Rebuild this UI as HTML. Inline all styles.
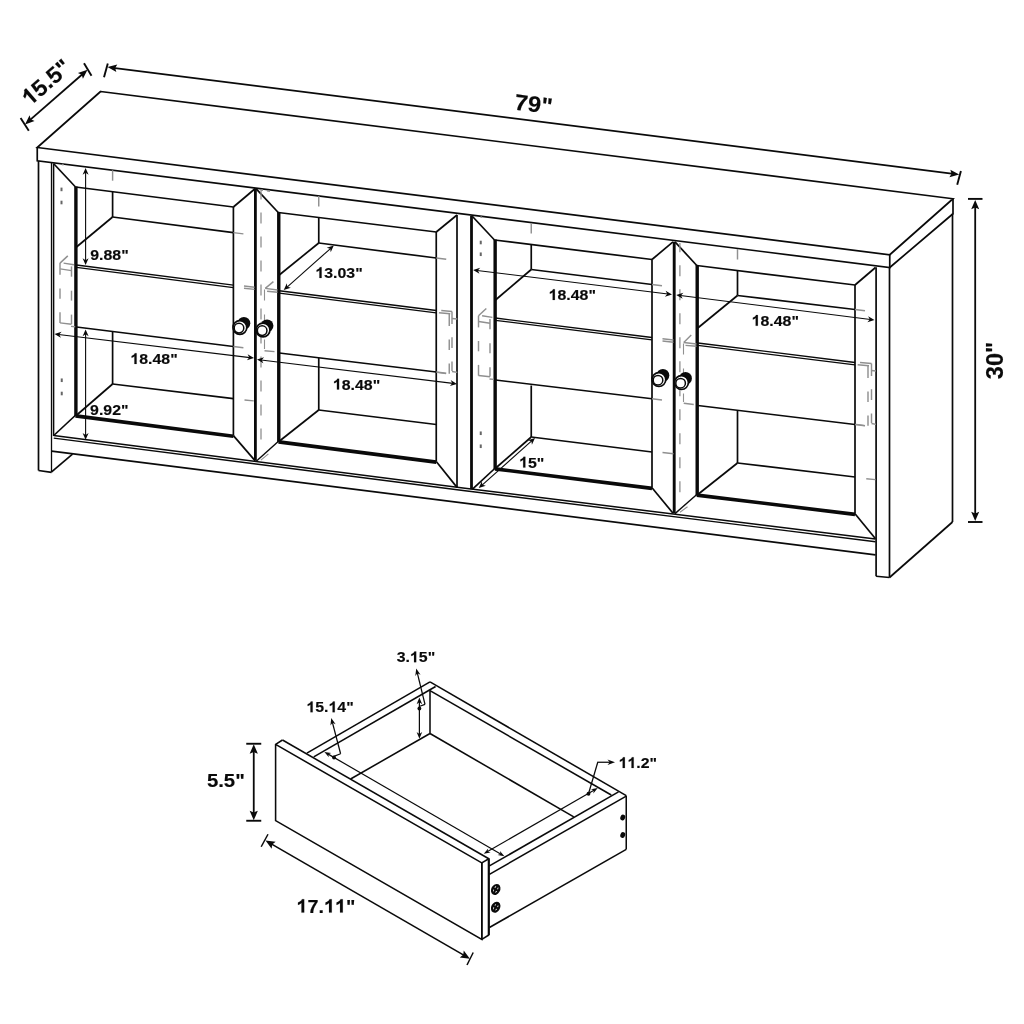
<!DOCTYPE html>
<html><head><meta charset="utf-8"><title>Cabinet dimensions</title>
<style>
html,body{margin:0;padding:0;background:#fff;overflow:hidden;}
svg{display:block;will-change:transform;}
text{font-family:"Liberation Sans",sans-serif;font-weight:bold;fill:#0a0a0a;stroke:#0a0a0a;stroke-width:0.15px;}
</style></head><body>
<svg width="1024" height="1024" viewBox="0 0 1024 1024">
<rect width="1024" height="1024" fill="#fff"/>
<polygon points="100.60,91.50 953.00,198.75 889.75,254.75 37.25,147.50" fill="none" stroke="#0a0a0a" stroke-width="1.7" stroke-linejoin="miter"/>
<polyline points="37.25,147.50 37.25,160.75 889.75,267.50 889.75,254.75" fill="none" stroke="#0a0a0a" stroke-width="1.7" stroke-linejoin="miter"/>
<polyline points="889.75,267.50 953.00,213.75 953.00,198.75" fill="none" stroke="#0a0a0a" stroke-width="1.7" stroke-linejoin="miter"/>
<line x1="38.50" y1="160.75" x2="38.50" y2="470.60" stroke="#0a0a0a" stroke-width="1.7" stroke-linecap="butt"/>
<line x1="38.50" y1="470.50" x2="51.60" y2="472.30" stroke="#0a0a0a" stroke-width="1.7" stroke-linecap="butt"/>
<line x1="51.50" y1="162.50" x2="51.50" y2="472.30" stroke="#0a0a0a" stroke-width="1.3" stroke-linecap="butt"/>
<line x1="53.60" y1="163.50" x2="53.60" y2="436.00" stroke="#0a0a0a" stroke-width="1.5" stroke-linecap="butt"/>
<line x1="51.60" y1="471.90" x2="72.50" y2="454.20" stroke="#0a0a0a" stroke-width="1.7" stroke-linecap="butt"/>
<polyline points="53.75,435.60 465.00,488.20 875.50,539.10" fill="none" stroke="#0a0a0a" stroke-width="1.5" stroke-linejoin="miter"/>
<polyline points="53.75,438.10 465.00,490.70 875.50,541.70" fill="none" stroke="#0a0a0a" stroke-width="1.4" stroke-linejoin="miter"/>
<line x1="51.60" y1="451.20" x2="875.50" y2="554.90" stroke="#0a0a0a" stroke-width="1.7" stroke-linecap="butt"/>
<line x1="876.10" y1="267.30" x2="876.10" y2="576.30" stroke="#0a0a0a" stroke-width="1.7" stroke-linecap="butt"/>
<line x1="889.50" y1="267.50" x2="889.50" y2="577.60" stroke="#0a0a0a" stroke-width="1.7" stroke-linecap="butt"/>
<line x1="876.10" y1="576.25" x2="889.50" y2="577.50" stroke="#0a0a0a" stroke-width="1.7" stroke-linecap="butt"/>
<line x1="889.50" y1="577.50" x2="952.50" y2="522.00" stroke="#0a0a0a" stroke-width="1.7" stroke-linecap="butt"/>
<line x1="952.50" y1="213.75" x2="952.50" y2="522.00" stroke="#0a0a0a" stroke-width="1.7" stroke-linecap="butt"/>
<line x1="53.75" y1="163.75" x2="75.50" y2="187.00" stroke="#0a0a0a" stroke-width="1.7" stroke-linecap="butt"/>
<line x1="255.00" y1="188.75" x2="233.40" y2="207.00" stroke="#0a0a0a" stroke-width="1.7" stroke-linecap="butt"/>
<line x1="255.00" y1="460.60" x2="233.40" y2="435.60" stroke="#0a0a0a" stroke-width="1.7" stroke-linecap="butt"/>
<line x1="53.75" y1="435.50" x2="75.50" y2="415.25" stroke="#0a0a0a" stroke-width="1.7" stroke-linecap="butt"/>
<line x1="75.50" y1="187.00" x2="233.40" y2="207.00" stroke="#0a0a0a" stroke-width="1.7" stroke-linecap="butt"/>
<line x1="233.40" y1="207.00" x2="233.40" y2="435.60" stroke="#0a0a0a" stroke-width="1.7" stroke-linecap="butt"/>
<line x1="75.90" y1="186.50" x2="75.90" y2="416.25" stroke="#0a0a0a" stroke-width="3.4" stroke-linecap="butt"/>
<line x1="75.50" y1="415.85" x2="233.40" y2="436.20" stroke="#0a0a0a" stroke-width="3.6" stroke-linecap="butt"/>
<line x1="112.60" y1="191.70" x2="112.60" y2="217.00" stroke="#0a0a0a" stroke-width="1.7" stroke-linecap="butt"/>
<line x1="112.60" y1="217.00" x2="233.40" y2="232.60" stroke="#0a0a0a" stroke-width="1.7" stroke-linecap="butt"/>
<line x1="233.40" y1="232.60" x2="243.40" y2="233.85" stroke="#909090" stroke-width="1.45" stroke-linecap="butt"/>
<line x1="112.60" y1="217.00" x2="76.50" y2="247.00" stroke="#0a0a0a" stroke-width="1.7" stroke-linecap="butt"/>
<line x1="76.50" y1="265.00" x2="233.40" y2="285.20" stroke="#0a0a0a" stroke-width="1.3" stroke-linecap="butt"/>
<line x1="76.50" y1="267.40" x2="233.40" y2="287.60" stroke="#0a0a0a" stroke-width="1.3" stroke-linecap="butt"/>
<line x1="76.50" y1="327.00" x2="233.40" y2="346.50" stroke="#0a0a0a" stroke-width="1.7" stroke-linecap="butt"/>
<line x1="233.40" y1="346.50" x2="243.40" y2="347.75" stroke="#909090" stroke-width="1.45" stroke-linecap="butt"/>
<line x1="112.60" y1="332.00" x2="112.60" y2="384.00" stroke="#0a0a0a" stroke-width="1.7" stroke-linecap="butt"/>
<line x1="112.60" y1="384.00" x2="233.40" y2="398.60" stroke="#0a0a0a" stroke-width="1.7" stroke-linecap="butt"/>
<line x1="112.60" y1="384.00" x2="76.50" y2="415.25" stroke="#0a0a0a" stroke-width="1.7" stroke-linecap="butt"/>
<line x1="112.60" y1="170.20" x2="112.60" y2="180.70" stroke="#909090" stroke-width="1.45" stroke-linecap="butt"/>
<line x1="256.25" y1="188.90" x2="278.25" y2="212.50" stroke="#0a0a0a" stroke-width="1.7" stroke-linecap="butt"/>
<line x1="457.00" y1="215.00" x2="436.25" y2="232.00" stroke="#0a0a0a" stroke-width="1.7" stroke-linecap="butt"/>
<line x1="457.00" y1="487.40" x2="436.25" y2="461.50" stroke="#0a0a0a" stroke-width="1.7" stroke-linecap="butt"/>
<line x1="256.25" y1="461.20" x2="278.50" y2="441.25" stroke="#0a0a0a" stroke-width="1.4" stroke-linecap="butt"/>
<line x1="278.25" y1="212.50" x2="436.25" y2="232.00" stroke="#0a0a0a" stroke-width="1.7" stroke-linecap="butt"/>
<line x1="436.25" y1="232.00" x2="436.25" y2="461.50" stroke="#0a0a0a" stroke-width="1.7" stroke-linecap="butt"/>
<line x1="278.77" y1="212.00" x2="278.77" y2="442.25" stroke="#0a0a0a" stroke-width="3.4" stroke-linecap="butt"/>
<line x1="278.50" y1="441.85" x2="436.25" y2="462.10" stroke="#0a0a0a" stroke-width="3.6" stroke-linecap="butt"/>
<line x1="318.75" y1="217.50" x2="318.75" y2="243.00" stroke="#0a0a0a" stroke-width="1.7" stroke-linecap="butt"/>
<line x1="318.75" y1="243.00" x2="436.25" y2="258.00" stroke="#0a0a0a" stroke-width="1.7" stroke-linecap="butt"/>
<line x1="436.25" y1="258.00" x2="446.25" y2="259.25" stroke="#909090" stroke-width="1.45" stroke-linecap="butt"/>
<line x1="318.75" y1="243.00" x2="279.25" y2="275.00" stroke="#0a0a0a" stroke-width="1.7" stroke-linecap="butt"/>
<line x1="279.25" y1="290.75" x2="436.25" y2="310.50" stroke="#0a0a0a" stroke-width="1.3" stroke-linecap="butt"/>
<line x1="279.25" y1="293.15" x2="436.25" y2="312.90" stroke="#0a0a0a" stroke-width="1.3" stroke-linecap="butt"/>
<line x1="279.25" y1="353.00" x2="436.25" y2="372.00" stroke="#0a0a0a" stroke-width="1.7" stroke-linecap="butt"/>
<line x1="436.25" y1="372.00" x2="446.25" y2="373.25" stroke="#909090" stroke-width="1.45" stroke-linecap="butt"/>
<line x1="318.75" y1="358.00" x2="318.75" y2="410.00" stroke="#0a0a0a" stroke-width="1.7" stroke-linecap="butt"/>
<line x1="318.75" y1="410.00" x2="436.25" y2="424.50" stroke="#0a0a0a" stroke-width="1.7" stroke-linecap="butt"/>
<line x1="318.75" y1="410.00" x2="279.25" y2="441.25" stroke="#0a0a0a" stroke-width="1.7" stroke-linecap="butt"/>
<line x1="318.75" y1="196.00" x2="318.75" y2="206.50" stroke="#909090" stroke-width="1.45" stroke-linecap="butt"/>
<line x1="472.50" y1="216.50" x2="494.50" y2="240.00" stroke="#0a0a0a" stroke-width="1.7" stroke-linecap="butt"/>
<line x1="673.00" y1="241.90" x2="652.00" y2="259.50" stroke="#0a0a0a" stroke-width="1.7" stroke-linecap="butt"/>
<line x1="673.00" y1="513.20" x2="652.00" y2="487.75" stroke="#0a0a0a" stroke-width="1.7" stroke-linecap="butt"/>
<line x1="472.50" y1="489.20" x2="495.00" y2="468.25" stroke="#0a0a0a" stroke-width="1.7" stroke-linecap="butt"/>
<line x1="494.50" y1="240.00" x2="652.00" y2="259.50" stroke="#0a0a0a" stroke-width="1.7" stroke-linecap="butt"/>
<line x1="652.00" y1="259.50" x2="652.00" y2="487.75" stroke="#0a0a0a" stroke-width="1.7" stroke-linecap="butt"/>
<line x1="495.15" y1="239.50" x2="495.15" y2="469.25" stroke="#0a0a0a" stroke-width="3.4" stroke-linecap="butt"/>
<line x1="495.00" y1="468.85" x2="652.00" y2="488.35" stroke="#0a0a0a" stroke-width="3.6" stroke-linecap="butt"/>
<line x1="531.25" y1="244.55" x2="531.25" y2="269.50" stroke="#0a0a0a" stroke-width="1.7" stroke-linecap="butt"/>
<line x1="531.25" y1="269.50" x2="652.00" y2="284.50" stroke="#0a0a0a" stroke-width="1.7" stroke-linecap="butt"/>
<line x1="652.00" y1="284.50" x2="662.00" y2="285.75" stroke="#909090" stroke-width="1.45" stroke-linecap="butt"/>
<line x1="531.25" y1="269.50" x2="495.50" y2="300.00" stroke="#0a0a0a" stroke-width="1.7" stroke-linecap="butt"/>
<line x1="495.50" y1="318.00" x2="652.00" y2="337.50" stroke="#0a0a0a" stroke-width="1.3" stroke-linecap="butt"/>
<line x1="495.50" y1="320.40" x2="652.00" y2="339.90" stroke="#0a0a0a" stroke-width="1.3" stroke-linecap="butt"/>
<line x1="495.50" y1="380.00" x2="652.00" y2="398.75" stroke="#0a0a0a" stroke-width="1.7" stroke-linecap="butt"/>
<line x1="652.00" y1="398.75" x2="662.00" y2="400.00" stroke="#909090" stroke-width="1.45" stroke-linecap="butt"/>
<line x1="531.25" y1="385.50" x2="531.25" y2="437.00" stroke="#0a0a0a" stroke-width="1.7" stroke-linecap="butt"/>
<line x1="531.25" y1="437.00" x2="652.00" y2="452.00" stroke="#0a0a0a" stroke-width="1.7" stroke-linecap="butt"/>
<line x1="531.25" y1="437.00" x2="495.50" y2="468.25" stroke="#0a0a0a" stroke-width="1.7" stroke-linecap="butt"/>
<line x1="531.25" y1="223.05" x2="531.25" y2="233.55" stroke="#909090" stroke-width="1.45" stroke-linecap="butt"/>
<line x1="675.00" y1="241.90" x2="696.80" y2="265.50" stroke="#0a0a0a" stroke-width="1.7" stroke-linecap="butt"/>
<line x1="875.50" y1="267.50" x2="855.00" y2="285.00" stroke="#0a0a0a" stroke-width="1.7" stroke-linecap="butt"/>
<line x1="875.50" y1="538.70" x2="855.00" y2="513.75" stroke="#0a0a0a" stroke-width="1.7" stroke-linecap="butt"/>
<line x1="675.00" y1="513.60" x2="696.80" y2="494.50" stroke="#0a0a0a" stroke-width="1.4" stroke-linecap="butt"/>
<line x1="696.80" y1="265.50" x2="855.00" y2="285.00" stroke="#0a0a0a" stroke-width="1.7" stroke-linecap="butt"/>
<line x1="855.00" y1="285.00" x2="855.00" y2="513.75" stroke="#0a0a0a" stroke-width="1.7" stroke-linecap="butt"/>
<line x1="697.20" y1="265.00" x2="697.20" y2="495.50" stroke="#0a0a0a" stroke-width="3.4" stroke-linecap="butt"/>
<line x1="696.80" y1="495.10" x2="855.00" y2="514.35" stroke="#0a0a0a" stroke-width="3.6" stroke-linecap="butt"/>
<line x1="737.50" y1="270.52" x2="737.50" y2="295.50" stroke="#0a0a0a" stroke-width="1.7" stroke-linecap="butt"/>
<line x1="737.50" y1="295.50" x2="855.00" y2="309.50" stroke="#0a0a0a" stroke-width="1.7" stroke-linecap="butt"/>
<line x1="855.00" y1="309.50" x2="865.00" y2="310.75" stroke="#909090" stroke-width="1.45" stroke-linecap="butt"/>
<line x1="737.50" y1="295.50" x2="697.80" y2="328.00" stroke="#0a0a0a" stroke-width="1.7" stroke-linecap="butt"/>
<line x1="697.80" y1="343.00" x2="855.00" y2="362.50" stroke="#0a0a0a" stroke-width="1.3" stroke-linecap="butt"/>
<line x1="697.80" y1="345.40" x2="855.00" y2="364.90" stroke="#0a0a0a" stroke-width="1.3" stroke-linecap="butt"/>
<line x1="697.80" y1="405.50" x2="855.00" y2="424.50" stroke="#0a0a0a" stroke-width="1.7" stroke-linecap="butt"/>
<line x1="855.00" y1="424.50" x2="865.00" y2="425.75" stroke="#909090" stroke-width="1.45" stroke-linecap="butt"/>
<line x1="737.50" y1="411.00" x2="737.50" y2="463.00" stroke="#0a0a0a" stroke-width="1.7" stroke-linecap="butt"/>
<line x1="737.50" y1="463.00" x2="855.00" y2="477.00" stroke="#0a0a0a" stroke-width="1.7" stroke-linecap="butt"/>
<line x1="737.50" y1="463.00" x2="697.80" y2="494.50" stroke="#0a0a0a" stroke-width="1.7" stroke-linecap="butt"/>
<line x1="737.50" y1="249.02" x2="737.50" y2="259.52" stroke="#909090" stroke-width="1.45" stroke-linecap="butt"/>
<line x1="255.40" y1="188.50" x2="255.40" y2="460.80" stroke="#0a0a0a" stroke-width="2.8" stroke-linecap="butt"/>
<line x1="457.00" y1="215.00" x2="457.00" y2="487.60" stroke="#0a0a0a" stroke-width="1.7" stroke-linecap="butt"/>
<line x1="471.50" y1="216.00" x2="471.50" y2="489.30" stroke="#0a0a0a" stroke-width="2.8" stroke-linecap="butt"/>
<line x1="674.20" y1="241.70" x2="674.20" y2="513.60" stroke="#0a0a0a" stroke-width="2.9" stroke-linecap="butt"/>
<line x1="61.50" y1="187.60" x2="61.50" y2="191.20" stroke="#666" stroke-width="2.0" stroke-linecap="butt"/>
<line x1="61.50" y1="200.70" x2="61.50" y2="204.30" stroke="#666" stroke-width="2.0" stroke-linecap="butt"/>
<line x1="61.75" y1="378.45" x2="61.75" y2="382.05" stroke="#666" stroke-width="2.0" stroke-linecap="butt"/>
<line x1="61.75" y1="391.70" x2="61.75" y2="395.30" stroke="#666" stroke-width="2.0" stroke-linecap="butt"/>
<line x1="480.75" y1="240.70" x2="480.75" y2="244.30" stroke="#666" stroke-width="2.0" stroke-linecap="butt"/>
<line x1="480.75" y1="252.45" x2="480.75" y2="256.05" stroke="#666" stroke-width="2.0" stroke-linecap="butt"/>
<line x1="480.75" y1="431.45" x2="480.75" y2="435.05" stroke="#666" stroke-width="2.0" stroke-linecap="butt"/>
<line x1="480.75" y1="444.45" x2="480.75" y2="448.05" stroke="#666" stroke-width="2.0" stroke-linecap="butt"/>
<line x1="60.00" y1="263.10" x2="67.80" y2="255.90" stroke="#909090" stroke-width="1.45" stroke-linecap="butt"/>
<line x1="63.60" y1="263.10" x2="73.90" y2="264.80" stroke="#909090" stroke-width="1.45" stroke-linecap="butt"/>
<line x1="60.20" y1="268.90" x2="71.50" y2="270.60" stroke="#909090" stroke-width="1.45" stroke-linecap="butt"/>
<line x1="60.00" y1="263.10" x2="60.00" y2="274.80" stroke="#909090" stroke-width="1.45" stroke-linecap="butt"/>
<line x1="60.00" y1="288.40" x2="60.00" y2="298.70" stroke="#909090" stroke-width="1.45" stroke-linecap="butt"/>
<line x1="60.00" y1="312.30" x2="60.00" y2="323.10" stroke="#909090" stroke-width="1.45" stroke-linecap="butt"/>
<line x1="71.50" y1="266.40" x2="71.50" y2="276.70" stroke="#909090" stroke-width="1.45" stroke-linecap="butt"/>
<line x1="71.50" y1="290.70" x2="71.50" y2="300.60" stroke="#909090" stroke-width="1.45" stroke-linecap="butt"/>
<line x1="71.50" y1="314.60" x2="71.50" y2="324.00" stroke="#909090" stroke-width="1.45" stroke-linecap="butt"/>
<line x1="60.00" y1="322.90" x2="71.50" y2="324.20" stroke="#909090" stroke-width="1.45" stroke-linecap="butt"/>
<line x1="71.00" y1="326.40" x2="75.20" y2="326.80" stroke="#909090" stroke-width="1.45" stroke-linecap="butt"/>
<line x1="478.50" y1="315.70" x2="486.30" y2="308.50" stroke="#909090" stroke-width="1.45" stroke-linecap="butt"/>
<line x1="482.10" y1="315.70" x2="492.40" y2="317.40" stroke="#909090" stroke-width="1.45" stroke-linecap="butt"/>
<line x1="478.70" y1="321.50" x2="490.00" y2="323.20" stroke="#909090" stroke-width="1.45" stroke-linecap="butt"/>
<line x1="478.50" y1="315.70" x2="478.50" y2="327.40" stroke="#909090" stroke-width="1.45" stroke-linecap="butt"/>
<line x1="478.50" y1="341.00" x2="478.50" y2="351.30" stroke="#909090" stroke-width="1.45" stroke-linecap="butt"/>
<line x1="478.50" y1="364.90" x2="478.50" y2="375.70" stroke="#909090" stroke-width="1.45" stroke-linecap="butt"/>
<line x1="490.00" y1="319.00" x2="490.00" y2="329.30" stroke="#909090" stroke-width="1.45" stroke-linecap="butt"/>
<line x1="490.00" y1="343.30" x2="490.00" y2="353.20" stroke="#909090" stroke-width="1.45" stroke-linecap="butt"/>
<line x1="490.00" y1="367.20" x2="490.00" y2="376.60" stroke="#909090" stroke-width="1.45" stroke-linecap="butt"/>
<line x1="478.50" y1="375.50" x2="490.00" y2="376.80" stroke="#909090" stroke-width="1.45" stroke-linecap="butt"/>
<line x1="489.50" y1="379.00" x2="493.70" y2="379.40" stroke="#909090" stroke-width="1.45" stroke-linecap="butt"/>
<line x1="438.90" y1="312.70" x2="450.25" y2="313.80" stroke="#909090" stroke-width="1.45" stroke-linecap="butt"/>
<line x1="441.25" y1="310.50" x2="452.00" y2="311.50" stroke="#909090" stroke-width="1.45" stroke-linecap="butt"/>
<line x1="449.25" y1="313.80" x2="449.25" y2="326.00" stroke="#909090" stroke-width="1.45" stroke-linecap="butt"/>
<line x1="449.25" y1="339.50" x2="449.25" y2="349.90" stroke="#909090" stroke-width="1.45" stroke-linecap="butt"/>
<line x1="449.25" y1="363.50" x2="449.25" y2="373.80" stroke="#909090" stroke-width="1.45" stroke-linecap="butt"/>
<line x1="452.00" y1="311.50" x2="452.00" y2="324.00" stroke="#909090" stroke-width="1.45" stroke-linecap="butt"/>
<line x1="452.00" y1="337.20" x2="452.00" y2="348.00" stroke="#909090" stroke-width="1.45" stroke-linecap="butt"/>
<line x1="452.00" y1="361.50" x2="452.00" y2="371.00" stroke="#909090" stroke-width="1.45" stroke-linecap="butt"/>
<line x1="452.00" y1="318.50" x2="457.25" y2="319.00" stroke="#909090" stroke-width="1.45" stroke-linecap="butt"/>
<line x1="437.50" y1="372.40" x2="446.00" y2="373.60" stroke="#909090" stroke-width="1.45" stroke-linecap="butt"/>
<line x1="452.00" y1="371.50" x2="457.25" y2="372.40" stroke="#909090" stroke-width="1.45" stroke-linecap="butt"/>
<line x1="857.65" y1="364.70" x2="869.00" y2="365.80" stroke="#909090" stroke-width="1.45" stroke-linecap="butt"/>
<line x1="860.00" y1="362.50" x2="871.50" y2="363.50" stroke="#909090" stroke-width="1.45" stroke-linecap="butt"/>
<line x1="868.00" y1="365.80" x2="868.00" y2="378.00" stroke="#909090" stroke-width="1.45" stroke-linecap="butt"/>
<line x1="868.00" y1="391.50" x2="868.00" y2="401.90" stroke="#909090" stroke-width="1.45" stroke-linecap="butt"/>
<line x1="868.00" y1="415.50" x2="868.00" y2="425.80" stroke="#909090" stroke-width="1.45" stroke-linecap="butt"/>
<line x1="871.50" y1="363.50" x2="871.50" y2="376.00" stroke="#909090" stroke-width="1.45" stroke-linecap="butt"/>
<line x1="871.50" y1="389.20" x2="871.50" y2="400.00" stroke="#909090" stroke-width="1.45" stroke-linecap="butt"/>
<line x1="871.50" y1="413.50" x2="871.50" y2="423.00" stroke="#909090" stroke-width="1.45" stroke-linecap="butt"/>
<line x1="871.50" y1="370.50" x2="876.00" y2="371.00" stroke="#909090" stroke-width="1.45" stroke-linecap="butt"/>
<line x1="856.25" y1="424.40" x2="864.75" y2="425.60" stroke="#909090" stroke-width="1.45" stroke-linecap="butt"/>
<line x1="871.50" y1="423.50" x2="876.00" y2="424.40" stroke="#909090" stroke-width="1.45" stroke-linecap="butt"/>
<line x1="244.00" y1="286.00" x2="254.60" y2="287.20" stroke="#909090" stroke-width="1.45" stroke-linecap="butt"/>
<line x1="244.00" y1="288.20" x2="254.60" y2="289.40" stroke="#909090" stroke-width="1.45" stroke-linecap="butt"/>
<line x1="662.50" y1="338.70" x2="673.50" y2="340.00" stroke="#909090" stroke-width="1.45" stroke-linecap="butt"/>
<line x1="662.50" y1="341.00" x2="673.50" y2="342.30" stroke="#909090" stroke-width="1.45" stroke-linecap="butt"/>
<line x1="244.50" y1="400.00" x2="253.75" y2="400.90" stroke="#909090" stroke-width="1.45" stroke-linecap="butt"/>
<line x1="662.50" y1="452.50" x2="673.50" y2="453.70" stroke="#909090" stroke-width="1.45" stroke-linecap="butt"/>
<line x1="866.25" y1="478.75" x2="875.50" y2="479.60" stroke="#909090" stroke-width="1.45" stroke-linecap="butt"/>
<line x1="261.00" y1="190.00" x2="261.00" y2="452.00" stroke="#909090" stroke-width="1.3" stroke-linecap="butt" stroke-dasharray="11 13" stroke-dashoffset="1.5"/>
<line x1="260.90" y1="460.10" x2="268.40" y2="453.80" stroke="#909090" stroke-width="1.1" stroke-linecap="butt"/>
<line x1="265.25" y1="288.40" x2="273.40" y2="281.60" stroke="#909090" stroke-width="1.45" stroke-linecap="butt"/>
<line x1="265.25" y1="288.40" x2="277.50" y2="290.00" stroke="#909090" stroke-width="1.45" stroke-linecap="butt"/>
<line x1="267.10" y1="291.25" x2="277.50" y2="292.20" stroke="#909090" stroke-width="1.45" stroke-linecap="butt"/>
<line x1="264.50" y1="289.40" x2="264.50" y2="349.00" stroke="#909090" stroke-width="1.1" stroke-linecap="butt" stroke-dasharray="11 14"/>
<line x1="264.50" y1="350.75" x2="274.50" y2="351.60" stroke="#909090" stroke-width="1.45" stroke-linecap="butt"/>
<line x1="679.90" y1="243.00" x2="679.90" y2="500.00" stroke="#909090" stroke-width="1.3" stroke-linecap="butt" stroke-dasharray="11 13" stroke-dashoffset="1.8"/>
<line x1="680.00" y1="512.30" x2="687.50" y2="506.70" stroke="#909090" stroke-width="1.1" stroke-linecap="butt"/>
<line x1="683.75" y1="342.50" x2="691.25" y2="335.00" stroke="#909090" stroke-width="1.45" stroke-linecap="butt"/>
<line x1="683.75" y1="342.50" x2="696.50" y2="344.00" stroke="#909090" stroke-width="1.45" stroke-linecap="butt"/>
<line x1="685.50" y1="345.40" x2="696.50" y2="346.30" stroke="#909090" stroke-width="1.45" stroke-linecap="butt"/>
<line x1="683.50" y1="343.50" x2="683.50" y2="402.00" stroke="#909090" stroke-width="1.1" stroke-linecap="butt" stroke-dasharray="11 14"/>
<line x1="683.75" y1="403.25" x2="693.75" y2="404.50" stroke="#909090" stroke-width="1.45" stroke-linecap="butt"/>
<line x1="62.00" y1="164.50" x2="63.60" y2="164.70" stroke="#909090" stroke-width="1.6" stroke-linecap="butt"/>
<line x1="480.40" y1="217.00" x2="482.00" y2="217.20" stroke="#909090" stroke-width="1.6" stroke-linecap="butt"/>
<line x1="261.00" y1="190.00" x2="263.00" y2="190.30" stroke="#909090" stroke-width="1.45" stroke-linecap="butt"/>
<line x1="267.00" y1="190.80" x2="270.00" y2="191.20" stroke="#909090" stroke-width="1.45" stroke-linecap="butt"/>
<circle cx="243.90" cy="323.30" r="6.4" fill="#0a0a0a"/>
<circle cx="239.90" cy="327.50" r="6.9" fill="#fff" stroke="#0a0a0a" stroke-width="1.7"/>
<circle cx="239.00" cy="328.10" r="4.8" fill="#fff" stroke="#0a0a0a" stroke-width="1.5"/>
<circle cx="267.05" cy="325.80" r="6.4" fill="#0a0a0a"/>
<circle cx="263.05" cy="330.00" r="6.9" fill="#fff" stroke="#0a0a0a" stroke-width="1.7"/>
<circle cx="262.15" cy="330.60" r="4.8" fill="#fff" stroke="#0a0a0a" stroke-width="1.5"/>
<circle cx="662.90" cy="375.40" r="6.4" fill="#0a0a0a"/>
<circle cx="658.90" cy="379.60" r="6.9" fill="#fff" stroke="#0a0a0a" stroke-width="1.7"/>
<circle cx="658.00" cy="380.20" r="4.8" fill="#fff" stroke="#0a0a0a" stroke-width="1.5"/>
<circle cx="685.50" cy="378.40" r="6.4" fill="#0a0a0a"/>
<circle cx="681.50" cy="382.60" r="6.9" fill="#fff" stroke="#0a0a0a" stroke-width="1.7"/>
<circle cx="680.60" cy="383.20" r="4.8" fill="#fff" stroke="#0a0a0a" stroke-width="1.5"/>
<line x1="29.25" y1="120.69" x2="83.25" y2="73.46" stroke="#0a0a0a" stroke-width="1.8" stroke-linecap="butt"/>
<polygon points="25.00,124.40 29.57,115.35 30.80,119.33 34.58,121.07" fill="#0a0a0a"/>
<polygon points="87.50,69.75 82.93,78.80 81.70,74.82 77.92,73.08" fill="#0a0a0a"/>
<line x1="28.80" y1="130.70" x2="20.60" y2="118.10" stroke="#0a0a0a" stroke-width="1.9" stroke-linecap="butt"/>
<line x1="91.50" y1="75.65" x2="84.00" y2="63.15" stroke="#0a0a0a" stroke-width="1.9" stroke-linecap="butt"/>
<line x1="113.10" y1="67.81" x2="953.60" y2="173.89" stroke="#0a0a0a" stroke-width="1.8" stroke-linecap="butt"/>
<polygon points="107.50,67.10 117.30,64.51 115.15,68.07 116.35,72.05" fill="#0a0a0a"/>
<polygon points="959.20,174.60 949.40,177.19 951.55,173.63 950.35,169.65" fill="#0a0a0a"/>
<line x1="104.00" y1="77.30" x2="107.80" y2="63.50" stroke="#0a0a0a" stroke-width="1.9" stroke-linecap="butt"/>
<line x1="957.20" y1="184.70" x2="960.90" y2="170.90" stroke="#0a0a0a" stroke-width="1.9" stroke-linecap="butt"/>
<line x1="975.20" y1="205.52" x2="975.20" y2="515.48" stroke="#0a0a0a" stroke-width="1.8" stroke-linecap="butt"/>
<polygon points="975.20,200.00 979.20,209.20 975.20,207.54 971.20,209.20" fill="#0a0a0a"/>
<polygon points="975.20,521.00 971.20,511.80 975.20,513.46 979.20,511.80" fill="#0a0a0a"/>
<line x1="968.00" y1="198.90" x2="982.50" y2="198.90" stroke="#0a0a0a" stroke-width="1.9" stroke-linecap="butt"/>
<line x1="968.00" y1="522.00" x2="982.50" y2="522.00" stroke="#0a0a0a" stroke-width="1.9" stroke-linecap="butt"/>
<line x1="85.60" y1="172.08" x2="85.60" y2="260.92" stroke="#0a0a0a" stroke-width="1.1" stroke-linecap="butt"/>
<polygon points="85.60,168.00 88.60,174.80 85.60,172.76 82.60,174.80" fill="#0a0a0a"/>
<polygon points="85.60,265.00 82.60,258.20 85.60,260.24 88.60,258.20" fill="#0a0a0a"/>
<line x1="85.60" y1="333.48" x2="85.60" y2="435.67" stroke="#0a0a0a" stroke-width="1.1" stroke-linecap="butt"/>
<polygon points="85.60,329.40 88.60,336.20 85.60,334.16 82.60,336.20" fill="#0a0a0a"/>
<polygon points="85.60,439.75 82.60,432.95 85.60,434.99 88.60,432.95" fill="#0a0a0a"/>
<line x1="58.55" y1="334.49" x2="249.95" y2="357.61" stroke="#0a0a0a" stroke-width="1.1" stroke-linecap="butt"/>
<polygon points="54.50,334.00 61.61,331.84 59.23,334.57 60.89,337.79" fill="#0a0a0a"/>
<polygon points="254.00,358.10 246.89,360.26 249.27,357.53 247.61,354.31" fill="#0a0a0a"/>
<line x1="261.05" y1="359.99" x2="452.95" y2="383.41" stroke="#0a0a0a" stroke-width="1.1" stroke-linecap="butt"/>
<polygon points="257.00,359.50 264.11,357.35 261.72,360.08 263.39,363.30" fill="#0a0a0a"/>
<polygon points="457.00,383.90 449.89,386.05 452.28,383.32 450.61,380.10" fill="#0a0a0a"/>
<line x1="477.15" y1="270.50" x2="667.95" y2="294.00" stroke="#0a0a0a" stroke-width="1.1" stroke-linecap="butt"/>
<polygon points="473.10,270.00 480.22,267.85 477.82,270.58 479.48,273.81" fill="#0a0a0a"/>
<polygon points="672.00,294.50 664.88,296.65 667.28,293.92 665.62,290.69" fill="#0a0a0a"/>
<line x1="680.30" y1="295.51" x2="870.45" y2="319.49" stroke="#0a0a0a" stroke-width="1.1" stroke-linecap="butt"/>
<polygon points="676.25,295.00 683.37,292.87 680.97,295.60 682.62,298.83" fill="#0a0a0a"/>
<polygon points="874.50,320.00 867.38,322.13 869.78,319.40 868.13,316.17" fill="#0a0a0a"/>
<line x1="330.75" y1="248.31" x2="286.80" y2="287.29" stroke="#0a0a0a" stroke-width="1.1" stroke-linecap="butt"/>
<polygon points="333.80,245.60 330.70,252.36 330.24,248.76 326.72,247.87" fill="#0a0a0a"/>
<polygon points="283.75,290.00 286.85,283.24 287.31,286.84 290.83,287.73" fill="#0a0a0a"/>
<line x1="531.95" y1="440.71" x2="481.80" y2="485.29" stroke="#0a0a0a" stroke-width="1.1" stroke-linecap="butt"/>
<polygon points="535.00,438.00 531.91,444.76 531.44,441.16 527.92,440.28" fill="#0a0a0a"/>
<polygon points="478.75,488.00 481.84,481.24 482.31,484.84 485.83,485.72" fill="#0a0a0a"/>
<polyline points="282.50,740.00 275.60,744.40 275.60,820.60 481.80,939.40 481.80,862.90 275.60,744.40" fill="none" stroke="#0a0a0a" stroke-width="1.55" stroke-linejoin="miter"/>
<line x1="282.50" y1="740.00" x2="488.80" y2="858.75" stroke="#0a0a0a" stroke-width="1.55" stroke-linecap="butt"/>
<line x1="481.80" y1="862.90" x2="488.80" y2="858.75" stroke="#0a0a0a" stroke-width="1.55" stroke-linecap="butt"/>
<line x1="481.80" y1="939.40" x2="488.80" y2="935.00" stroke="#0a0a0a" stroke-width="1.55" stroke-linecap="butt"/>
<line x1="481.80" y1="862.90" x2="481.80" y2="939.40" stroke="#0a0a0a" stroke-width="1.55" stroke-linecap="butt"/>
<line x1="488.80" y1="858.25" x2="488.80" y2="935.30" stroke="#0a0a0a" stroke-width="2.2" stroke-linecap="butt"/>
<line x1="306.90" y1="753.10" x2="430.00" y2="681.90" stroke="#0a0a0a" stroke-width="1.55" stroke-linecap="butt"/>
<line x1="313.75" y1="756.90" x2="435.60" y2="686.50" stroke="#0a0a0a" stroke-width="1.55" stroke-linecap="butt"/>
<line x1="350.60" y1="779.00" x2="430.00" y2="733.50" stroke="#0a0a0a" stroke-width="1.55" stroke-linecap="butt"/>
<line x1="430.00" y1="681.90" x2="626.25" y2="795.60" stroke="#0a0a0a" stroke-width="1.55" stroke-linecap="butt"/>
<line x1="430.00" y1="690.60" x2="611.25" y2="795.00" stroke="#0a0a0a" stroke-width="1.55" stroke-linecap="butt"/>
<line x1="430.00" y1="690.60" x2="430.00" y2="733.50" stroke="#0a0a0a" stroke-width="1.55" stroke-linecap="butt"/>
<line x1="430.00" y1="733.50" x2="573.75" y2="816.90" stroke="#0a0a0a" stroke-width="1.55" stroke-linecap="butt"/>
<line x1="626.25" y1="796.10" x2="489.40" y2="874.30" stroke="#0a0a0a" stroke-width="1.55" stroke-linecap="butt"/>
<line x1="618.50" y1="791.90" x2="489.40" y2="865.90" stroke="#0a0a0a" stroke-width="1.55" stroke-linecap="butt"/>
<line x1="626.25" y1="795.60" x2="626.25" y2="849.40" stroke="#0a0a0a" stroke-width="1.55" stroke-linecap="butt"/>
<line x1="626.25" y1="849.40" x2="489.40" y2="927.50" stroke="#0a0a0a" stroke-width="1.55" stroke-linecap="butt"/>
<ellipse cx="622.75" cy="817.5" rx="2.4" ry="3" fill="#0a0a0a" transform="rotate(20 622.75 817.5)"/>
<ellipse cx="622.75" cy="835" rx="2.4" ry="3" fill="#0a0a0a" transform="rotate(20 622.75 835)"/>
<g transform="rotate(28 495.7 889.4)"><ellipse cx="495.7" cy="889.4" rx="3.3" ry="4.6" fill="#fff" stroke="#0a0a0a" stroke-width="2.3"/><line x1="492.7" y1="889.4" x2="498.7" y2="889.4" stroke="#0a0a0a" stroke-width="2.1"/><line x1="495.7" y1="885.1999999999999" x2="495.7" y2="893.6" stroke="#0a0a0a" stroke-width="2.1"/></g>
<g transform="rotate(28 495.7 907.2)"><ellipse cx="495.7" cy="907.2" rx="3.3" ry="4.6" fill="#fff" stroke="#0a0a0a" stroke-width="2.3"/><line x1="492.7" y1="907.2" x2="498.7" y2="907.2" stroke="#0a0a0a" stroke-width="2.1"/><line x1="495.7" y1="903.0" x2="495.7" y2="911.4000000000001" stroke="#0a0a0a" stroke-width="2.1"/></g>
<line x1="253.75" y1="749.96" x2="253.75" y2="814.54" stroke="#0a0a0a" stroke-width="1.8" stroke-linecap="butt"/>
<polygon points="253.75,744.20 257.85,753.80 253.75,752.07 249.65,753.80" fill="#0a0a0a"/>
<polygon points="253.75,820.30 249.65,810.70 253.75,812.43 257.85,810.70" fill="#0a0a0a"/>
<line x1="246.25" y1="743.75" x2="261.25" y2="743.75" stroke="#0a0a0a" stroke-width="1.9" stroke-linecap="butt"/>
<line x1="246.25" y1="820.75" x2="261.25" y2="820.75" stroke="#0a0a0a" stroke-width="1.9" stroke-linecap="butt"/>
<line x1="270.38" y1="843.42" x2="465.02" y2="955.88" stroke="#0a0a0a" stroke-width="1.6" stroke-linecap="butt"/>
<polygon points="265.50,840.60 275.64,841.84 272.17,844.46 271.64,848.77" fill="#0a0a0a"/>
<polygon points="469.90,958.70 459.76,957.46 463.23,954.84 463.76,950.53" fill="#0a0a0a"/>
<line x1="261.20" y1="846.75" x2="268.00" y2="834.25" stroke="#0a0a0a" stroke-width="1.5" stroke-linecap="butt"/>
<line x1="467.00" y1="965.00" x2="473.20" y2="952.50" stroke="#0a0a0a" stroke-width="1.5" stroke-linecap="butt"/>
<line x1="327.77" y1="753.86" x2="501.03" y2="854.29" stroke="#0a0a0a" stroke-width="1.2" stroke-linecap="butt"/>
<polygon points="324.40,751.90 331.23,753.08 328.34,754.18 328.82,757.24" fill="#0a0a0a"/>
<polygon points="504.40,856.25 497.57,855.07 500.46,853.97 499.98,850.91" fill="#0a0a0a"/>
<circle cx="334.00" cy="757.50" r="1.9" fill="#0a0a0a"/>
<line x1="340.60" y1="753.75" x2="332.32" y2="722.16" stroke="#0a0a0a" stroke-width="1.25" stroke-linecap="butt"/>
<polygon points="331.25,718.10 335.64,724.19 332.49,722.84 330.41,725.56" fill="#0a0a0a"/>
<line x1="340.60" y1="753.75" x2="332.50" y2="756.90" stroke="#0a0a0a" stroke-width="1.25" stroke-linecap="butt"/>
<line x1="419.40" y1="701.58" x2="419.40" y2="734.67" stroke="#0a0a0a" stroke-width="1.25" stroke-linecap="butt"/>
<polygon points="419.40,697.50 422.20,704.30 419.40,702.26 416.60,704.30" fill="#0a0a0a"/>
<polygon points="419.40,738.75 416.60,731.95 419.40,733.99 422.20,731.95" fill="#0a0a0a"/>
<circle cx="419.40" cy="708.50" r="1.9" fill="#0a0a0a"/>
<line x1="425.00" y1="704.40" x2="417.24" y2="672.58" stroke="#0a0a0a" stroke-width="1.25" stroke-linecap="butt"/>
<polygon points="416.25,668.50 420.53,674.66 417.41,673.26 415.28,675.94" fill="#0a0a0a"/>
<line x1="425.00" y1="704.40" x2="419.75" y2="706.25" stroke="#0a0a0a" stroke-width="1.25" stroke-linecap="butt"/>
<line x1="487.13" y1="851.80" x2="594.37" y2="790.05" stroke="#0a0a0a" stroke-width="1.2" stroke-linecap="butt"/>
<polygon points="483.75,853.75 488.19,848.43 487.69,851.48 490.58,852.59" fill="#0a0a0a"/>
<polygon points="597.75,788.10 593.31,793.42 593.81,790.37 590.92,789.26" fill="#0a0a0a"/>
<circle cx="588.50" cy="793.75" r="1.9" fill="#0a0a0a"/>
<line x1="588.50" y1="793.75" x2="597.75" y2="762.25" stroke="#0a0a0a" stroke-width="1.25" stroke-linecap="butt"/>
<line x1="597.20" y1="762.25" x2="610.50" y2="762.25" stroke="#0a0a0a" stroke-width="1.25" stroke-linecap="butt"/>
<polygon points="615.00,762.25 607.50,765.05 609.75,762.25 607.50,759.45" fill="#0a0a0a"/>
<g transform="translate(90.20 260.30) scale(1.06 1)"><text x="0.00 8.34 12.51 20.85 29.19" y="0" font-size="15.0">9.88&quot;</text></g>
<g transform="translate(90.10 414.90) scale(1.06 1)"><text x="0.00 8.34 12.51 20.85 29.19" y="0" font-size="15.0">9.92&quot;</text></g>
<g transform="translate(130.35 364.00) scale(1.06 1)"><path d="M806 0H525V1059Q371 915 162 846V1101Q272 1137 401 1237.5Q530 1338 578 1472H806Z" transform="translate(0.00 0) scale(0.00732 -0.00732)" fill="#0a0a0a" stroke="#0a0a0a" stroke-width="20"/><text x="8.34 16.68 20.85 29.19 37.53" y="0" font-size="15.0">8.48&quot;</text></g>
<g transform="translate(315.35 278.00) scale(1.06 1)"><path d="M806 0H525V1059Q371 915 162 846V1101Q272 1137 401 1237.5Q530 1338 578 1472H806Z" transform="translate(0.00 0) scale(0.00732 -0.00732)" fill="#0a0a0a" stroke="#0a0a0a" stroke-width="20"/><text x="8.34 16.68 20.85 29.19 37.53" y="0" font-size="15.0">3.03&quot;</text></g>
<g transform="translate(332.85 389.50) scale(1.06 1)"><path d="M806 0H525V1059Q371 915 162 846V1101Q272 1137 401 1237.5Q530 1338 578 1472H806Z" transform="translate(0.00 0) scale(0.00732 -0.00732)" fill="#0a0a0a" stroke="#0a0a0a" stroke-width="20"/><text x="8.34 16.68 20.85 29.19 37.53" y="0" font-size="15.0">8.48&quot;</text></g>
<g transform="translate(548.60 300.00) scale(1.06 1)"><path d="M806 0H525V1059Q371 915 162 846V1101Q272 1137 401 1237.5Q530 1338 578 1472H806Z" transform="translate(0.00 0) scale(0.00732 -0.00732)" fill="#0a0a0a" stroke="#0a0a0a" stroke-width="20"/><text x="8.34 16.68 20.85 29.19 37.53" y="0" font-size="15.0">8.48&quot;</text></g>
<g transform="translate(751.60 325.75) scale(1.06 1)"><path d="M806 0H525V1059Q371 915 162 846V1101Q272 1137 401 1237.5Q530 1338 578 1472H806Z" transform="translate(0.00 0) scale(0.00732 -0.00732)" fill="#0a0a0a" stroke="#0a0a0a" stroke-width="20"/><text x="8.34 16.68 20.85 29.19 37.53" y="0" font-size="15.0">8.48&quot;</text></g>
<g transform="translate(519.10 467.60) scale(1.06 1)"><path d="M806 0H525V1059Q371 915 162 846V1101Q272 1137 401 1237.5Q530 1338 578 1472H806Z" transform="translate(0.00 0) scale(0.00732 -0.00732)" fill="#0a0a0a" stroke="#0a0a0a" stroke-width="20"/><text x="8.34 16.68" y="0" font-size="15.0">5&quot;</text></g>
<g transform="translate(513.70 109.50) rotate(7) scale(1.07 1)"><text x="0.00 12.45 24.91" y="0" font-size="22.4">79&quot;</text></g>
<g transform="translate(51.30 88.10) rotate(-41) scale(1.03 1)"><path d="M806 0H525V1059Q371 915 162 846V1101Q272 1137 401 1237.5Q530 1338 578 1472H806Z" transform="translate(-27.59 0) scale(0.01113 -0.01113)" fill="#0a0a0a" stroke="#0a0a0a" stroke-width="13"/><text x="-14.91 -2.23 4.10 16.78" y="0" font-size="22.8">5.5&quot;</text></g>
<g transform="translate(1003.20 360.50) rotate(-90) scale(1.0 1)"><text x="-18.64 -5.57 7.50" y="0" font-size="23.5">30&quot;</text></g>
<g transform="translate(206.90 786.60) scale(1.06 1)"><text x="0.00 10.68 16.01 26.69" y="0" font-size="19.2">5.5&quot;</text></g>
<g transform="translate(296.40 912.60) scale(1.06 1)"><path d="M806 0H525V1059Q371 915 162 846V1101Q272 1137 401 1237.5Q530 1338 578 1472H806Z" transform="translate(0.00 0) scale(0.00913 -0.00913)" fill="#0a0a0a" stroke="#0a0a0a" stroke-width="16"/><path d="M806 0H525V1059Q371 915 162 846V1101Q272 1137 401 1237.5Q530 1338 578 1472H806Z" transform="translate(25.99 0) scale(0.00913 -0.00913)" fill="#0a0a0a" stroke="#0a0a0a" stroke-width="16"/><path d="M806 0H525V1059Q371 915 162 846V1101Q272 1137 401 1237.5Q530 1338 578 1472H806Z" transform="translate(36.39 0) scale(0.00913 -0.00913)" fill="#0a0a0a" stroke="#0a0a0a" stroke-width="16"/><text x="10.40 20.79 46.79" y="0" font-size="18.7">7.&quot;</text></g>
<g transform="translate(306.40 712.25) scale(1.06 1)"><path d="M806 0H525V1059Q371 915 162 846V1101Q272 1137 401 1237.5Q530 1338 578 1472H806Z" transform="translate(0.00 0) scale(0.00732 -0.00732)" fill="#0a0a0a" stroke="#0a0a0a" stroke-width="20"/><path d="M806 0H525V1059Q371 915 162 846V1101Q272 1137 401 1237.5Q530 1338 578 1472H806Z" transform="translate(20.85 0) scale(0.00732 -0.00732)" fill="#0a0a0a" stroke="#0a0a0a" stroke-width="20"/><text x="8.34 16.68 29.19 37.53" y="0" font-size="15.0">5.4&quot;</text></g>
<g transform="translate(396.70 662.25) scale(1.06 1)"><path d="M806 0H525V1059Q371 915 162 846V1101Q272 1137 401 1237.5Q530 1338 578 1472H806Z" transform="translate(12.51 0) scale(0.00732 -0.00732)" fill="#0a0a0a" stroke="#0a0a0a" stroke-width="20"/><text x="0.00 8.34 20.85 29.19" y="0" font-size="15.0">3.5&quot;</text></g>
<g transform="translate(618.60 768.00) scale(1.06 1)"><path d="M806 0H525V1059Q371 915 162 846V1101Q272 1137 401 1237.5Q530 1338 578 1472H806Z" transform="translate(0.00 0) scale(0.00732 -0.00732)" fill="#0a0a0a" stroke="#0a0a0a" stroke-width="20"/><path d="M806 0H525V1059Q371 915 162 846V1101Q272 1137 401 1237.5Q530 1338 578 1472H806Z" transform="translate(8.34 0) scale(0.00732 -0.00732)" fill="#0a0a0a" stroke="#0a0a0a" stroke-width="20"/><text x="16.68 20.85 29.19" y="0" font-size="15.0">.2&quot;</text></g>
</svg>
</body></html>
